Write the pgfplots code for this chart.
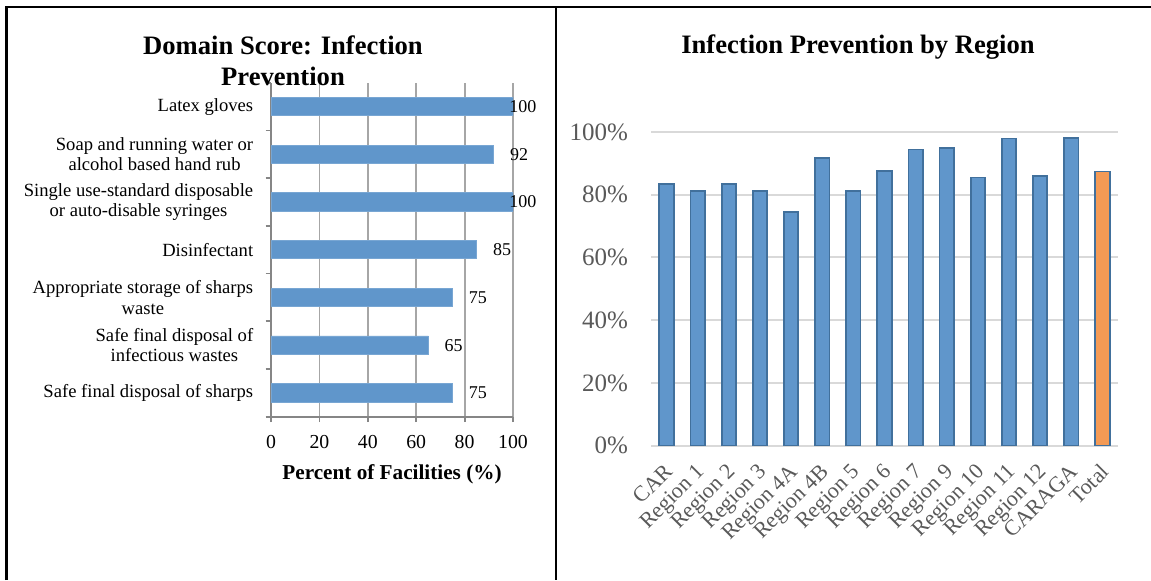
\documentclass[border=0pt]{standalone}
\usepackage{fontspec}
\setmainfont{Liberation Serif}
\usepackage{pgfplots}
\pgfplotsset{compat=1.18}

\definecolor{barblue}{HTML}{6096CB}
\definecolor{baredge}{HTML}{41709C}
\definecolor{barorange}{HTML}{F49A55}
\definecolor{gridlight}{HTML}{D9D9D9}
\definecolor{gridleft}{HTML}{A6A6A6}
\definecolor{axisgray}{HTML}{868686}
\definecolor{labelgray}{HTML}{595959}

\begin{document}
\begin{tikzpicture}
\useasboundingbox (0pt,0pt) rectangle (575.5pt,-290pt);

% frame of the table
\draw[line width=1.2pt] (3.3pt,-290pt) -- (3.3pt,-3.5pt) -- (575.5pt,-3.5pt);
\draw[line width=1.2pt] (278pt,-3.5pt) -- (278pt,-290pt);

% left: domain score
\begin{axis}[
  at={(135.5pt,-208.35pt)}, anchor=south west,
  scale only axis, width=121pt, height=167pt,
  xbar, bar width=9.15pt,
  xmin=0, xmax=100, ymin=-0.5, ymax=6.5,
  xtick={0,20,...,100},
  ytick={0,...,6},
  minor ytick={-0.5,0.5,...,6.5},
  yticklabels={Safe final disposal of sharps,
    {Safe final disposal of\\infectious wastes},
    {Appropriate storage of sharps\\waste},
    Disinfectant,
    {Single use-standard disposable\\or auto-disable syringes},
    {Soap and running water or\\alcohol based hand rub},
    Latex gloves},
  axis x line*=bottom, axis y line*=left,
  axis line style={axisgray, line width=0.9pt},
  xmajorgrids, major x grid style={gridleft, line width=0.9pt},
  tick align=outside, major tick length=2.7pt, minor tick length=2.7pt,
  major y tick style={draw=none},
  minor y tick style={draw=axisgray, line width=0.9pt},
  major x tick style={draw=axisgray, line width=0.9pt},
  yticklabel style={align=center, inner sep=0pt, xshift=-6pt, font=\fontsize{9.3}{10.2}\selectfont},
  xticklabel style={yshift=-3pt, font=\fontsize{9.9}{11}\selectfont},
  /pgf/number format/assume math mode=true,
  xlabel={Percent of Facilities (\%)},
  xlabel style={font=\fontsize{10.6}{12}\bfseries, at={(axis description cs:0.5,0)}, anchor=base, yshift=-31.6pt},
  point meta=x,
  visualization depends on={x \as \rawx},
  nodes near coords,
  every node near coord/.append style={anchor=west, inner sep=0pt, text=black,
    font=\fontsize{9}{10}\selectfont, xshift={(\rawx>99.5 ? -2 : 8)*1pt}},
]
\addplot[fill=barblue, draw=barblue!85!white, line width=0.4pt] coordinates {
  (75,0) (65,1) (75,2) (85,3) (100,4) (92,5) (100,6)
};
\end{axis}

\node[font=\fontsize{13.3}{15}\bfseries, anchor=base] at (141.5pt,-27pt) {Domain Score: Infection};
\node[font=\fontsize{13.3}{15}\bfseries, anchor=base] at (141.5pt,-42.5pt) {Prevention};

% right: by region
\begin{axis}[
  at={(325.5pt,-222.85pt)}, anchor=south west,
  scale only axis, width=233.5pt, height=156.85pt,
  ybar, bar width=7.2pt, bar shift=0pt,
  xmin=-0.5, xmax=14.5, ymin=0, ymax=100,
  xtick={0,...,14},
  xticklabels={CAR, Region 1, Region 2, Region 3, Region 4A, Region 4B, Region 5,
    Region 6, Region 7, Region 9, Region 10, Region 11, Region 12, CARAGA, Total},
  ytick={0,20,...,100},
  yticklabel={\pgfmathprintnumber{\tick}\%},
  ymajorgrids, major y grid style={gridlight, line width=1pt},
  axis x line*=bottom, axis y line*=left,
  x axis line style={gridlight, line width=1pt},
  y axis line style={draw=none},
  major tick length=0pt,
  tick label style={text=labelgray},
  yticklabel style={xshift=-8pt, font=\fontsize{12.5}{13}\selectfont},
  xticklabel style={xshift=-1.5pt, yshift=-3.5pt, font=\fontsize{11}{12}\selectfont, rotate=45, anchor=north east},
  /pgf/number format/assume math mode=true,
]
\addplot[fill=barblue, draw=baredge, line width=0.9pt] coordinates {
  (0,83.4) (1,81.3) (2,83.4) (3,81.3) (4,74.5) (5,91.7) (6,81.2)
  (7,87.5) (8,94.4) (9,94.9) (10,85.5) (11,97.9) (12,86.1) (13,98.2)
};
\addplot[fill=barorange, draw=baredge, line width=0.9pt] coordinates {(14,87.4)};
\end{axis}

\node[font=\fontsize{13.3}{15}\bfseries, anchor=base] at (429pt,-26.65pt) {Infection Prevention by Region};
\end{tikzpicture}
\end{document}
